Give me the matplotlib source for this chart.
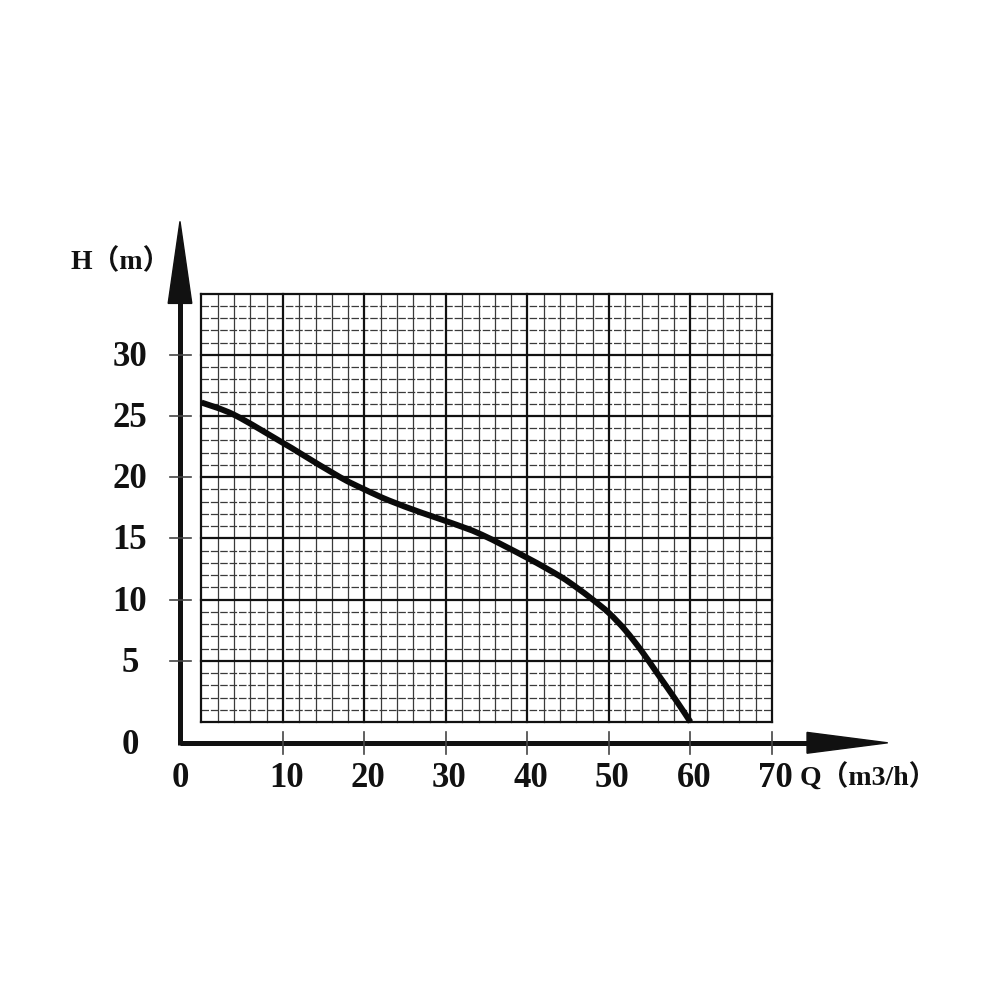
import matplotlib
matplotlib.use("Agg")
import matplotlib.pyplot as plt
from matplotlib.path import Path
from matplotlib.patches import PathPatch
import numpy as np

# ---- data ----
flow_q = [0, 4, 10, 12, 17, 20, 23, 27, 30.5, 34.4, 40, 44, 46, 48, 50, 52, 54, 56, 58.2, 60]
head_h = [26.1, 25.1, 22.8, 22.0, 20.0, 19.0, 18.1, 17.1, 16.3, 15.3, 13.4, 11.9, 11.0, 10.0, 8.9, 7.5, 5.8, 3.9, 1.8, 0]
x_ticks = [10, 20, 30, 40, 50, 60, 70]
x_tick_labels = ["10", "20", "30", "40", "50", "60", "70"]
y_ticks = [5, 10, 15, 20, 25, 30]
y_tick_labels = ["5", "10", "15", "20", "25", "30"]
x_label = "Q（m3/h）"
y_label = "H（m）"

# ---- layout ----
fig = plt.figure(figsize=(10, 10), dpi=100)
ax = fig.add_axes([0, 0, 1, 1])
# pixel mapping: px = 201.5 + 8.15*x ; py(from top) = 722 - 12.24*y
sx, ox = 8.15, 201.5
sy, oy = 12.24, 722.0
ax.set_xlim((0 - ox) / sx, (1000 - ox) / sx)
ax.set_ylim(-(1000 - oy) / sy, oy / sy)
ax.axis("off")

XMAX, YMAX = 70, 35
ink = "#111111"

# minor grid
for xv in np.arange(0, XMAX + 0.1, 2):
    if xv % 10 != 0:
        ax.plot([xv, xv], [0, YMAX], color="#3a3a3a", lw=0.9, zorder=1)
for yv in np.arange(0, YMAX + 0.1, 1):
    if yv % 5 != 0:
        ax.plot([0, XMAX], [yv, yv], color="#3a3a3a", lw=0.9,
                linestyle=(0, (6, 1.5)), zorder=1)
# major grid
for xv in range(0, XMAX + 1, 10):
    ax.plot([xv, xv], [0, YMAX], color=ink, lw=1.6, zorder=2)
for yv in range(0, YMAX + 1, 5):
    ax.plot([0, XMAX], [yv, yv], color=ink, lw=1.6, zorder=2)

# axes lines with arrows
x_axis_y = -1.7
y_axis_x = -2.64
ax.plot([y_axis_x, 75], [x_axis_y, x_axis_y], color=ink, lw=3.6,
        solid_capstyle="butt", zorder=3)
ax.plot([y_axis_x, y_axis_x], [x_axis_y - 0.18, 35], color=ink, lw=3.6,
        solid_capstyle="butt", zorder=3)
ax.fill([74.3, 84.2, 74.3], [x_axis_y + 0.85, x_axis_y, x_axis_y - 0.85],
        color=ink, zorder=4)
ax.fill([y_axis_x - 1.45, y_axis_x, y_axis_x + 1.45], [34.2, 40.9, 34.2],
        color=ink, zorder=4)

# ticks on axes
for xv in x_ticks:
    ax.plot([xv, xv], [x_axis_y - 0.9, x_axis_y + 0.85], color="#444444",
            lw=1.2, zorder=3)
for yv in y_ticks:
    ax.plot([y_axis_x - 1.25, y_axis_x + 1.4], [yv, yv], color="#444444",
            lw=1.2, zorder=3)

font = dict(family=["Liberation Serif", "Noto Sans CJK SC"],
            fontweight="bold", color=ink)
fs = 25
for xv, lab in zip(x_ticks, x_tick_labels):
    ax.text(xv + 0.4, -4.6, lab, ha="center", va="center", fontsize=fs, **font)
ax.text(y_axis_x, -4.6, "0", ha="center", va="center", fontsize=fs, **font)
ylab_x = (130 - ox) / sx
for yv, lab in zip(y_ticks, y_tick_labels):
    ax.text(ylab_x, yv - 0.2, lab, ha="center", va="center", fontsize=fs, **font)
ax.text(ylab_x, -1.9, "0", ha="center", va="center", fontsize=fs, **font)

ax.text((121 - ox) / sx, (oy - 262) / sy, y_label, ha="center", va="center",
        fontsize=20, **font)
ax.text((868 - ox) / sx, (oy - 778) / sy, x_label, ha="center", va="center",
        fontsize=20, **font)

# pump curve: smooth Catmull-Rom style cubic Bezier through the read points
pts = np.column_stack([flow_q, head_h]).astype(float)
verts = [tuple(pts[0])]
codes = [Path.MOVETO]
n = len(pts)
for i in range(n - 1):
    p0 = pts[i - 1] if i > 0 else pts[i]
    p1 = pts[i]
    p2 = pts[i + 1]
    p3 = pts[i + 2] if i + 2 < n else pts[i + 1]
    c1 = p1 + (p2 - p0) / 6.0
    c2 = p2 - (p3 - p1) / 6.0
    verts += [tuple(c1), tuple(c2), tuple(p2)]
    codes += [Path.CURVE4, Path.CURVE4, Path.CURVE4]
curve = PathPatch(Path(verts, codes), facecolor="none", edgecolor="#0a0a0a",
                  lw=4.3, capstyle="butt", joinstyle="round", zorder=5)
ax.add_patch(curve)

fig.savefig("out.png", dpi=100, facecolor="white")
